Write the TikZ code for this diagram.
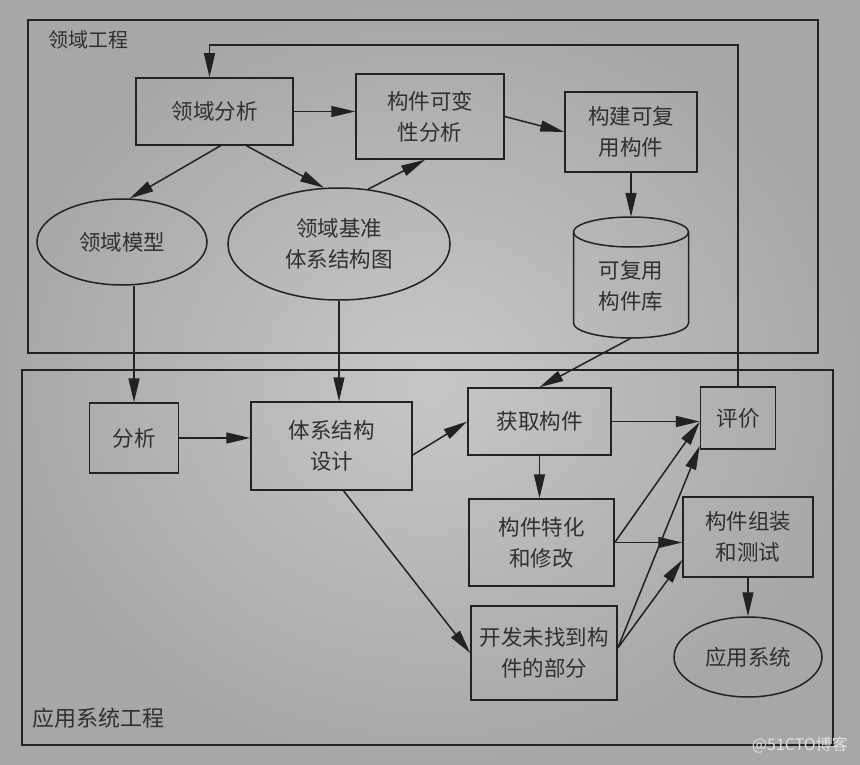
\documentclass[tikz,border=0pt]{standalone}
\usepackage{fontspec}
\newfontfamily\cjk{Noto Sans CJK SC}
\usetikzlibrary{arrows.meta,shapes.geometric}
\definecolor{bgin}{RGB}{198,199,201}
\definecolor{bgout}{RGB}{166,167,169}
\definecolor{ink}{RGB}{34,34,34}
\definecolor{txt}{RGB}{48,48,48}
\definecolor{wm}{RGB}{224,224,224}
\tikzset{
  ln/.style={draw=ink, line width=1.5pt},
  arr/.style={ln, -{Triangle[length=24pt,width=11pt]}},
  boxnode/.style={ln, rectangle, font=\cjk\fontsize{21.5}{31}\selectfont, text=txt, align=center, inner sep=0pt},
  ellnode/.style={ln, ellipse, font=\cjk\fontsize{21.5}{31}\selectfont, text=txt, align=center, inner sep=0pt},
  frame/.style={ln, line width=1.6pt},
  lbl/.style={font=\cjk\fontsize{20}{24}\selectfont, text=txt, anchor=west, inner sep=0pt}
}
\begin{document}
\begin{tikzpicture}[x=1pt,y=-1pt]
\useasboundingbox (0,0) rectangle (860,765);
\shade[inner color=bgin, outer color=bgout] (0,0) rectangle (860,765);

% frames
\draw[frame] (28,20) rectangle (818,353);
\draw[frame] (22,370) rectangle (833,745);
\node[lbl] (lblD) at (48,40) {领域工程};
\node[lbl, font=\cjk\fontsize{22}{24}\selectfont] (lblA) at (32,718) {应用系统工程};

% domain engineering
\node[boxnode, minimum width=157pt, minimum height=67pt] (da) at (214.5,111.5) {领域分析};
\node[boxnode, minimum width=148pt, minimum height=85pt] (kb) at (430,116.5) {构件可变\\性分析};
\node[boxnode, minimum width=132pt, minimum height=80pt] (gj) at (631,132) {构建可复\\用构件};
\node[ellnode, minimum width=170pt, minimum height=86pt] (dm) at (122,242) {领域模型};
\node[ellnode, minimum width=222pt, minimum height=112pt] (dj) at (339,244) {领域基准\\体系结构图};

% cylinder
\node[rectangle, minimum width=115pt, minimum height=121pt, inner sep=0pt] (cyl) at (631,277.5) {};
\draw[ln] (573.5,232) -- (573.5,323) arc[start angle=180, end angle=0, x radius=57.5, y radius=15] -- (688.5,232);
\draw[ln] (631,232) ellipse [x radius=57.5, y radius=15];
\node[font=\cjk\fontsize{21.5}{31}\selectfont, text=txt, align=center, inner sep=0pt] (cyltext) at (631,286) {可复用\\构件库};

% application engineering
\node[boxnode, minimum width=89pt, minimum height=70pt] (fx) at (134,438) {分析};
\node[boxnode, minimum width=161pt, minimum height=88pt] (tx) at (331.5,446) {体系结构\\设计};
\node[boxnode, minimum width=143pt, minimum height=67pt] (hq) at (539.5,421.5) {获取构件};
\node[boxnode, minimum width=75pt, minimum height=62pt] (pj) at (738,418) {评价};
\node[boxnode, minimum width=145pt, minimum height=87pt] (th) at (541.5,542.5) {构件特化\\和修改};
\node[boxnode, minimum width=130pt, minimum height=80pt] (zz) at (748,537) {构件组装\\和测试};
\node[boxnode, minimum width=146pt, minimum height=94pt] (kf) at (544,653) {开发未找到构\\件的部分};
\node[ellnode, minimum width=148pt, minimum height=80pt] (yy) at (748,657) {应用系统};

% connectors (domain)
\draw[arr] (da.east) -- (da.east -| kb.west);
\draw[arr] (kb.east) -- (gj.west);
\draw[arr] ([xshift=6pt]da.south) -- (dm.80);
\draw[arr] ([xshift=32pt]da.south) -- (dj.105);
\draw[arr] (dj.62) -- ([xshift=-5pt]kb.south);
\draw[arr] (gj.south) -- (gj.south |- cyl.north);

% cross connectors
\draw[arr] (fx.north |- dm.south) -- (fx.north);
\draw[arr] (dj.south) -- (dj.south |- tx.north);
\draw[arr] (cyl.south) -- (hq.north);

% connectors (application)
\draw[arr] (fx.east) -- (fx.east -| tx.west);
\draw[arr] ([yshift=-9pt]tx.east) -- (hq.west);
\draw[arr] ([xshift=12pt]tx.south) -- (kf.west);
\draw[arr] (hq.east) -- (hq.east -| pj.west);
\draw[arr] (hq.south) -- (hq.south |- th.north);
\draw[arr] (th.east) -- (th.east -| zz.west);
\draw[arr] (th.east) -- ([yshift=-4pt]pj.west);
\draw[arr] ([yshift=5pt]kf.east) -- ([yshift=4pt]pj.south west);
\draw[arr] ([yshift=5pt]kf.east) -- ([yshift=-23pt]zz.west);
\draw[arr] (zz.south) -- (zz.south |- yy.north);

% feedback
\coordinate (fbR) at (738,45);
\draw[arr] (pj.north) -- (fbR) -| ([xshift=-5pt]da.north);

% watermark
\node[font=\cjk\fontsize{16}{18}\selectfont, text=wm, anchor=east, inner sep=0pt] (wmk) at (848,745) {@51CTO博客};
\end{tikzpicture}
\end{document}
